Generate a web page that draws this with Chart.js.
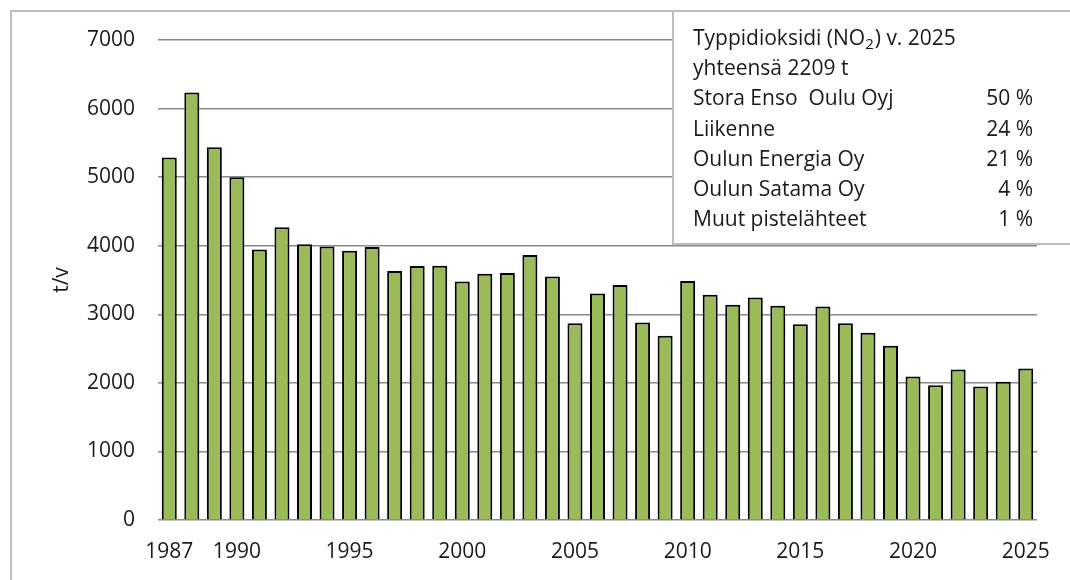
<!DOCTYPE html>
<html><head><meta charset="utf-8">
<script src="https://cdn.jsdelivr.net/npm/chart.js@4.4.1/dist/chart.umd.min.js"></script>
<style>html,body{margin:0;padding:0;background:#fff}#wrap{width:1070px;height:580px;position:relative}</style>
</head><body><div id="wrap"><canvas id="c" width="1070" height="580"></canvas></div>
<script>
const years = ['1987','1988','1989','1990','1991','1992','1993','1994','1995','1996','1997','1998','1999','2000','2001','2002','2003','2004','2005','2006','2007','2008','2009','2010','2011','2012','2013','2014','2015','2016','2017','2018','2019','2020','2021','2022','2023','2024','2025'];
const emissions = [5285,6234,5436,5000,3946,4268,4020,3990,3927,3981,3630,3703,3708,3479,3591,3601,3864,3552,2871,3304,3426,2880,2686,3484,3285,3139,3245,3124,2856,3114,2871,2730,2540,2092,1966,2194,1946,2015,2209];
const shownYearLabels = ['1987','1990','1995','2000','2005','2010','2015','2020','2025'];
const yTicks = [0,1000,2000,3000,4000,5000,6000,7000];
const yAxisTitle = 't/v';
const boxTitleParts = ['Typpidioksidi (NO', '2', ') v. 2025'];
const boxSubtitle = 'yhteensä 2209 t';
const sourceNames = ['Stora Enso  Oulu Oyj','Liikenne','Oulun Energia Oy','Oulun Satama Oy','Muut pistelähteet'];
const sourceShares = ['50 %','24 %','21 %','4 %','1 %'];

const FONT = '"Open Sans", sans-serif';
const TXT = '#1a1a1a';

const boxPlugin = {
  id: 'infoBox',
  afterDraw(chart) {
    const ctx = chart.ctx;
    ctx.save();
    ctx.strokeStyle = '#bdbdbd';
    ctx.lineWidth = 2;
    ctx.beginPath(); ctx.moveTo(11, 580); ctx.lineTo(11, 11); ctx.lineTo(1070, 11); ctx.stroke();
    ctx.fillStyle = '#fff';
    ctx.fillRect(673, 12, 397, 232);
    ctx.beginPath(); ctx.moveTo(673, 12); ctx.lineTo(673, 244); ctx.lineTo(1070, 244); ctx.stroke();
    ctx.fillStyle = TXT;
    ctx.textBaseline = 'alphabetic';
    ctx.textAlign = 'left';
    const big = '21px ' + FONT, small = '15px ' + FONT;
    let x = 693, base = 45;
    ctx.font = big; ctx.fillText(boxTitleParts[0], x, base); x += ctx.measureText(boxTitleParts[0]).width;
    ctx.font = small; ctx.fillText(boxTitleParts[1], x, base + 4); x += ctx.measureText(boxTitleParts[1]).width + 1;
    ctx.font = big; ctx.fillText(boxTitleParts[2], x, base);
    ctx.fillText(boxSubtitle, 693, base + 30.2);
    for (let i = 0; i < sourceNames.length; i++) {
      const b = base + 30.2 * (i + 2);
      ctx.textAlign = 'left'; ctx.fillText(sourceNames[i], 693, b);
      ctx.textAlign = 'right'; ctx.fillText(sourceShares[i], 1033, b);
    }
    ctx.restore();
  }
};

new Chart(document.getElementById('c'), {
  type: 'bar',
  data: { labels: years, datasets: [{ data: emissions, backgroundColor: '#9bbb59', borderColor: '#000', borderWidth: 2, borderSkipped: 'start', barPercentage: 0.665, categoryPercentage: 1 }] },
  options: {
    responsive: false, devicePixelRatio: 1, animation: false,
    layout: { padding: { left: 0, right: 33, top: 40, bottom: 0 } },
    plugins: { legend: { display: false }, tooltip: { enabled: false } },
    scales: {
      x: {
        grid: { display: false, drawTicks: false }, border: { display: false },
        ticks: { autoSkip: false, maxRotation: 0, minRotation: 0, padding: 19, color: TXT, font: { size: 21, family: FONT },
          callback: function(v, i) { const l = years[i]; return shownYearLabels.includes(l) ? l : ''; } },
        afterFit: s => { s.height = 60; }
      },
      y: {
        min: 0, max: 7000,
        afterBuildTicks: s => { s.ticks = yTicks.map(v => ({ value: v })); },
        grid: { color: '#8a8a8a', lineWidth: 1.5, drawTicks: false }, border: { display: false },
        ticks: { padding: 23, color: TXT, font: { size: 21, family: FONT }, callback: v => String(v) },
        title: { display: true, text: yAxisTitle, color: TXT, font: { size: 21, family: FONT }, padding: { top: 49, bottom: 0 } },
        afterFit: s => { s.width = 158; }
      }
    }
  },
  plugins: [boxPlugin]
});
</script></body></html>
